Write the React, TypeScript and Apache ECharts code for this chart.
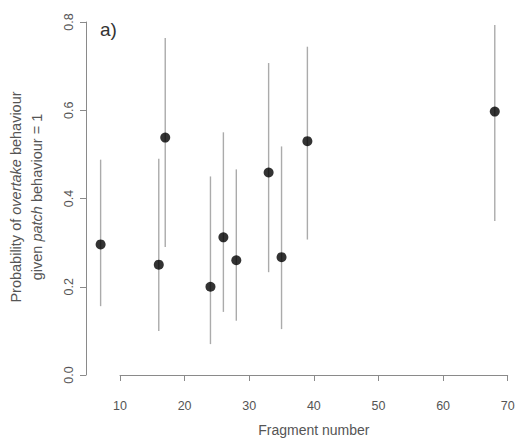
import React, { useEffect, useRef } from "react";
import * as echarts from "echarts";

const fragments = [7, 16, 17, 24, 26, 28, 33, 35, 39, 68];
const probability = [0.296, 0.25, 0.538, 0.2, 0.312, 0.26, 0.459, 0.267, 0.53, 0.597];
const lower = [0.156, 0.1, 0.29, 0.07, 0.143, 0.123, 0.233, 0.104, 0.307, 0.349];
const upper = [0.488, 0.49, 0.764, 0.45, 0.55, 0.466, 0.707, 0.518, 0.744, 0.793];
const xTicks = [10, 70, 10];
const yTicks = [0, 0.8, 0.2];

export default function App() {
  const ref = useRef<HTMLDivElement>(null);
  useEffect(() => {
    if (!ref.current) return;
    const chart = echarts.init(ref.current, null, { renderer: "svg" });
    const font = "Liberation Sans, Arial, sans-serif";
    const axisColor = "#8a8a8a";
    const textColor = "#555";
    chart.setOption({
      animation: false,
      backgroundColor: "#fff",
      grid: { left: 120, right: 10.3, top: 22, bottom: 66 },
      xAxis: {
        type: "value",
        min: xTicks[0],
        max: xTicks[1],
        interval: xTicks[2],
        offset: 14,
        splitLine: { show: false },
        axisLine: { show: true, lineStyle: { color: axisColor, width: 1 } },
        axisTick: { show: true, length: 6, lineStyle: { color: axisColor } },
        axisLabel: { color: textColor, fontSize: 12.5, fontFamily: font, margin: 10 },
        name: "Fragment number",
        nameLocation: "middle",
        nameGap: 34,
        nameTextStyle: { color: textColor, fontSize: 14, fontFamily: font },
      },
      yAxis: {
        type: "value",
        min: yTicks[0],
        max: yTicks[1],
        interval: yTicks[2],
        offset: 34,
        splitLine: { show: false },
        axisLine: { show: true, lineStyle: { color: axisColor, width: 1 } },
        axisTick: { show: true, length: 6, lineStyle: { color: axisColor } },
        axisLabel: {
          color: textColor,
          fontSize: 12.5,
          fontFamily: font,
          rotate: 90,
          margin: 11,
          formatter: (v: number) => v.toFixed(1),
        },
      },
      graphic: [
        {
          type: "text",
          left: 100,
          top: 20,
          style: { text: "a)", fontSize: 19, fontFamily: font, fill: "#333" },
        },
        {
          type: "text",
          x: 16,
          y: 197,
          rotation: Math.PI / 2,
          style: {
            text: "{n|Probability of }{i|overtake}{n| behaviour}",
            align: "center",
            verticalAlign: "middle",
            rich: {
              n: { fontSize: 14.5, fontFamily: font, fill: textColor },
              i: { fontSize: 14.5, fontFamily: font, fill: textColor, fontStyle: "italic" },
            },
          },
        },
        {
          type: "text",
          x: 37,
          y: 197,
          rotation: Math.PI / 2,
          style: {
            text: "{n|given }{i|patch}{n| behaviour = 1}",
            align: "center",
            verticalAlign: "middle",
            rich: {
              n: { fontSize: 14.5, fontFamily: font, fill: textColor },
              i: { fontSize: 14.5, fontFamily: font, fill: textColor, fontStyle: "italic" },
            },
          },
        },
      ],
      series: [
        {
          type: "custom",
          clip: false,
          data: fragments.map((f, i) => [f, lower[i], upper[i]]),
          renderItem: (params: any, api: any) => {
            const p1 = api.coord([api.value(0), api.value(1)]);
            const p2 = api.coord([api.value(0), api.value(2)]);
            return {
              type: "line",
              shape: { x1: p1[0], y1: p1[1], x2: p2[0], y2: p2[1] },
              style: { stroke: "#ababab", lineWidth: 1.4 },
            };
          },
          z: 1,
        },
        {
          type: "scatter",
          clip: false,
          symbol: "circle",
          symbolSize: 10,
          itemStyle: { color: "#000" },
          data: fragments.map((f, i) => [f, probability[i]]),
          z: 2,
        },
      ],
    });
    return () => chart.dispose();
  }, []);
  return <div ref={ref} style={{ width: 518, height: 442, position: "absolute", left: 0, top: 0 }} />;
}
